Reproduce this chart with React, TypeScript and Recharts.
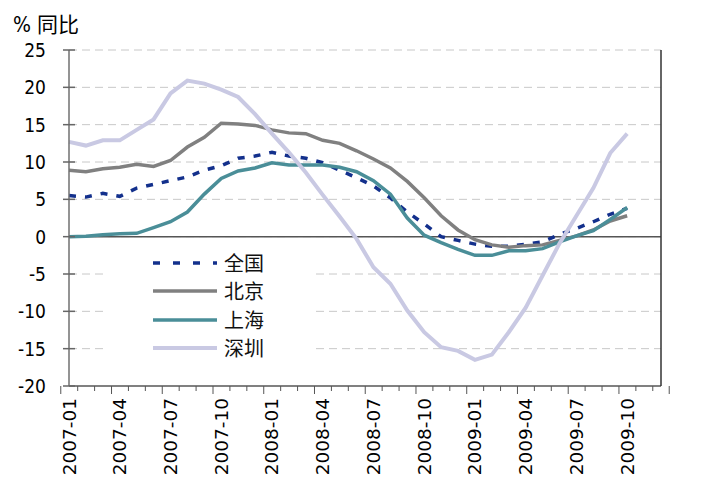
import React from 'react';
import { LineChart, Line, XAxis, YAxis, CartesianGrid, ReferenceLine } from 'recharts';

// monthly categories, 2007-01 .. 2009-12 (data runs to 2009-10)
const months = [
  '2007-01', '2007-02', '2007-03', '2007-04', '2007-05', '2007-06',
  '2007-07', '2007-08', '2007-09', '2007-10', '2007-11', '2007-12',
  '2008-01', '2008-02', '2008-03', '2008-04', '2008-05', '2008-06',
  '2008-07', '2008-08', '2008-09', '2008-10', '2008-11', '2008-12',
  '2009-01', '2009-02', '2009-03', '2009-04', '2009-05', '2009-06',
  '2009-07', '2009-08', '2009-09', '2009-10', '2009-11', '2009-12',
];

const yTicks = [-20, -15, -10, -5, 0, 5, 10, 15, 20, 25];

const quanguo = [
  5.5, 5.3, 5.8, 5.4, 6.5, 7.0, 7.5, 8.0, 8.9, 9.5, 10.5, 10.8,
  11.3, 10.8, 10.5, 9.9, 8.9, 7.9, 6.8, 5.2, 3.3, 1.7, 0.0, -0.5,
  -1.0, -1.3, -1.3, -1.0, -0.7, 0.3, 1.1, 2.0, 3.0, 3.8,
];
const beijing = [
  8.9, 8.7, 9.1, 9.3, 9.7, 9.4, 10.2, 12.0, 13.3, 15.2, 15.1, 14.9,
  14.3, 13.9, 13.8, 12.9, 12.5, 11.5, 10.4, 9.2, 7.4, 5.2, 2.8, 0.9,
  -0.4, -1.1, -1.4, -1.2, -1.1, -0.5, 0.1, 0.9, 2.1, 2.8,
];
const shanghai = [
  0.0, 0.05, 0.25, 0.4, 0.45, 1.2, 2.0, 3.3, 5.7, 7.8, 8.8, 9.2,
  9.9, 9.6, 9.6, 9.6, 9.3, 8.7, 7.5, 5.7, 2.5, 0.2, -0.8, -1.7,
  -2.5, -2.5, -1.9, -1.9, -1.6, -0.7, 0.1, 0.8, 2.3, 3.9,
];
const shenzhen = [
  12.7, 12.2, 12.9, 12.9, 14.3, 15.7, 19.2, 20.9, 20.5, 19.7, 18.7, 16.4,
  13.8, 11.3, 8.6, 5.6, 2.7, -0.3, -4.1, -6.3, -9.9, -12.8, -14.8, -15.3,
  -16.5, -15.8, -12.8, -9.5, -5.2, -0.9, 2.8, 6.5, 11.2, 13.8,
];

const series = [
  { key: 'qg', name: '全国', color: '#13308c', dash: '7 9', width: 3.5 },
  { key: 'bj', name: '北京', color: '#808080', dash: undefined, width: 3.5 },
  { key: 'sh', name: '上海', color: '#4a8e98', dash: undefined, width: 3.5 },
  { key: 'sz', name: '深圳', color: '#c9c9e3', dash: undefined, width: 4 },
];

const data = months.map((month, i) => ({
  month,
  qg: quanguo[i] ?? null,
  bj: beijing[i] ?? null,
  sh: shanghai[i] ?? null,
  sz: shenzhen[i] ?? null,
}));

const FONT = '"DejaVu Sans Condensed", "DejaVu Sans", sans-serif';
const XFONT = '"DejaVu Sans", sans-serif';
const CJK = '"Noto Sans CJK SC", sans-serif';
const BAND = 592 / months.length;

function LeftTick({ x, y, payload }: any) {
  return (
    <g>
      <line x1={x - 6} x2={x + 6} y1={y} y2={y} stroke="#666" strokeWidth={1.5} />
      <text x={x - 23} y={y} textAnchor="end" dominantBaseline="central" fontSize={19} fontFamily={FONT} fill="#000">
        {payload.value}
      </text>
    </g>
  );
}

function RightTick({ x, y, payload }: any) {
  return (
    <g>
      <line x1={x - 6} x2={x + 6} y1={y} y2={y} stroke="#333" strokeWidth={1.5} />
      <text x={x + 18} y={y} textAnchor="start" dominantBaseline="central" fontSize={19} fontFamily={FONT} fill="#000">
        {payload.value}
      </text>
    </g>
  );
}

function BottomTick({ x, y, payload, index }: any) {
  const i = payload.index ?? index;
  const left = x - BAND / 2;
  return (
    <g>
      <line x1={left} x2={left} y1={y} y2={y + (i % 3 === 0 ? 8 : 5)} stroke="#555" strokeWidth={1} />
      {i === months.length - 1 && (
        <line x1={x + BAND / 2} x2={x + BAND / 2} y1={y} y2={y + 8} stroke="#555" strokeWidth={1} />
      )}
      {i % 3 === 0 && (
        <text
          x={x}
          y={y + 12}
          transform={`rotate(-90, ${x}, ${y + 12})`}
          textAnchor="end"
          dominantBaseline="central"
          fontSize={18.5}
          fontFamily={XFONT}
          fill="#000"
        >
          {payload.value}
        </text>
      )}
    </g>
  );
}

function LegendBox() {
  return (
    <div style={{ position: 'absolute', left: 105, top: 250, width: 208, height: 112, background: '#fff' }}>
      {series.map((s, i) => (
        <div key={s.key} style={{ position: 'absolute', left: 48, top: 13 + i * 28.3 - 14, height: 28, display: 'flex', alignItems: 'center' }}>
          <svg width={66} height={10} style={{ display: 'block' }}>
            <line x1={0} x2={64} y1={5} y2={5} stroke={s.color} strokeWidth={s.width} strokeDasharray={s.dash ? '7 13' : undefined} />
          </svg>
          <span style={{ marginLeft: 5, fontFamily: CJK, fontSize: 20, color: '#111', lineHeight: '28px' }}>{s.name}</span>
        </div>
      ))}
    </div>
  );
}

export default function App() {
  return (
    <div style={{ position: 'absolute', left: 0, top: 0, width: 719, height: 485, background: '#fff' }}>
      <LineChart width={719} height={485} data={data} margin={{ top: 50, right: 18, bottom: 9, left: 29 }}>
        <CartesianGrid horizontal vertical={false} stroke="#c8c8c8" strokeDasharray="8 5" yAxisId="left" />
        <XAxis
          dataKey="month"
          interval={0}
          height={90}
          tick={<BottomTick />}
          tickLine={false}
          tickSize={0}
          tickMargin={0}
          axisLine={{ stroke: '#808080', strokeWidth: 2 }}
          yAxisId="left"
        />
        <YAxis
          yAxisId="left"
          width={40}
          domain={[-20, 25]}
          ticks={yTicks}
          interval={0}
          tick={<LeftTick />}
          tickLine={false}
          tickSize={0}
          tickMargin={0}
          axisLine={{ stroke: '#707070', strokeWidth: 1.5 }}
        />
        <YAxis
          yAxisId="right"
          orientation="right"
          width={40}
          domain={[-20, 25]}
          ticks={yTicks}
          interval={0}
          tick={<RightTick />}
          tickLine={false}
          tickSize={0}
          tickMargin={0}
          axisLine={{ stroke: '#333', strokeWidth: 1.5 }}
        />
        <ReferenceLine yAxisId="left" y={0} stroke="#555" strokeWidth={1.5} />
        {series.map((s) => (
          <Line
            key={s.key}
            yAxisId="left"
            type="linear"
            dataKey={s.key}
            name={s.name}
            stroke={s.color}
            strokeWidth={s.width}
            strokeDasharray={s.dash}
            dot={false}
            activeDot={false}
            isAnimationActive={false}
          />
        ))}
      </LineChart>
      <LegendBox />
      <div style={{ position: 'absolute', left: 13, top: 9, fontSize: 21, lineHeight: '28px', color: '#000', whiteSpace: 'nowrap' }}>
        <span style={{ fontFamily: FONT }}>%</span>
        <span style={{ fontFamily: CJK, marginLeft: 6 }}>同比</span>
      </div>
    </div>
  );
}
